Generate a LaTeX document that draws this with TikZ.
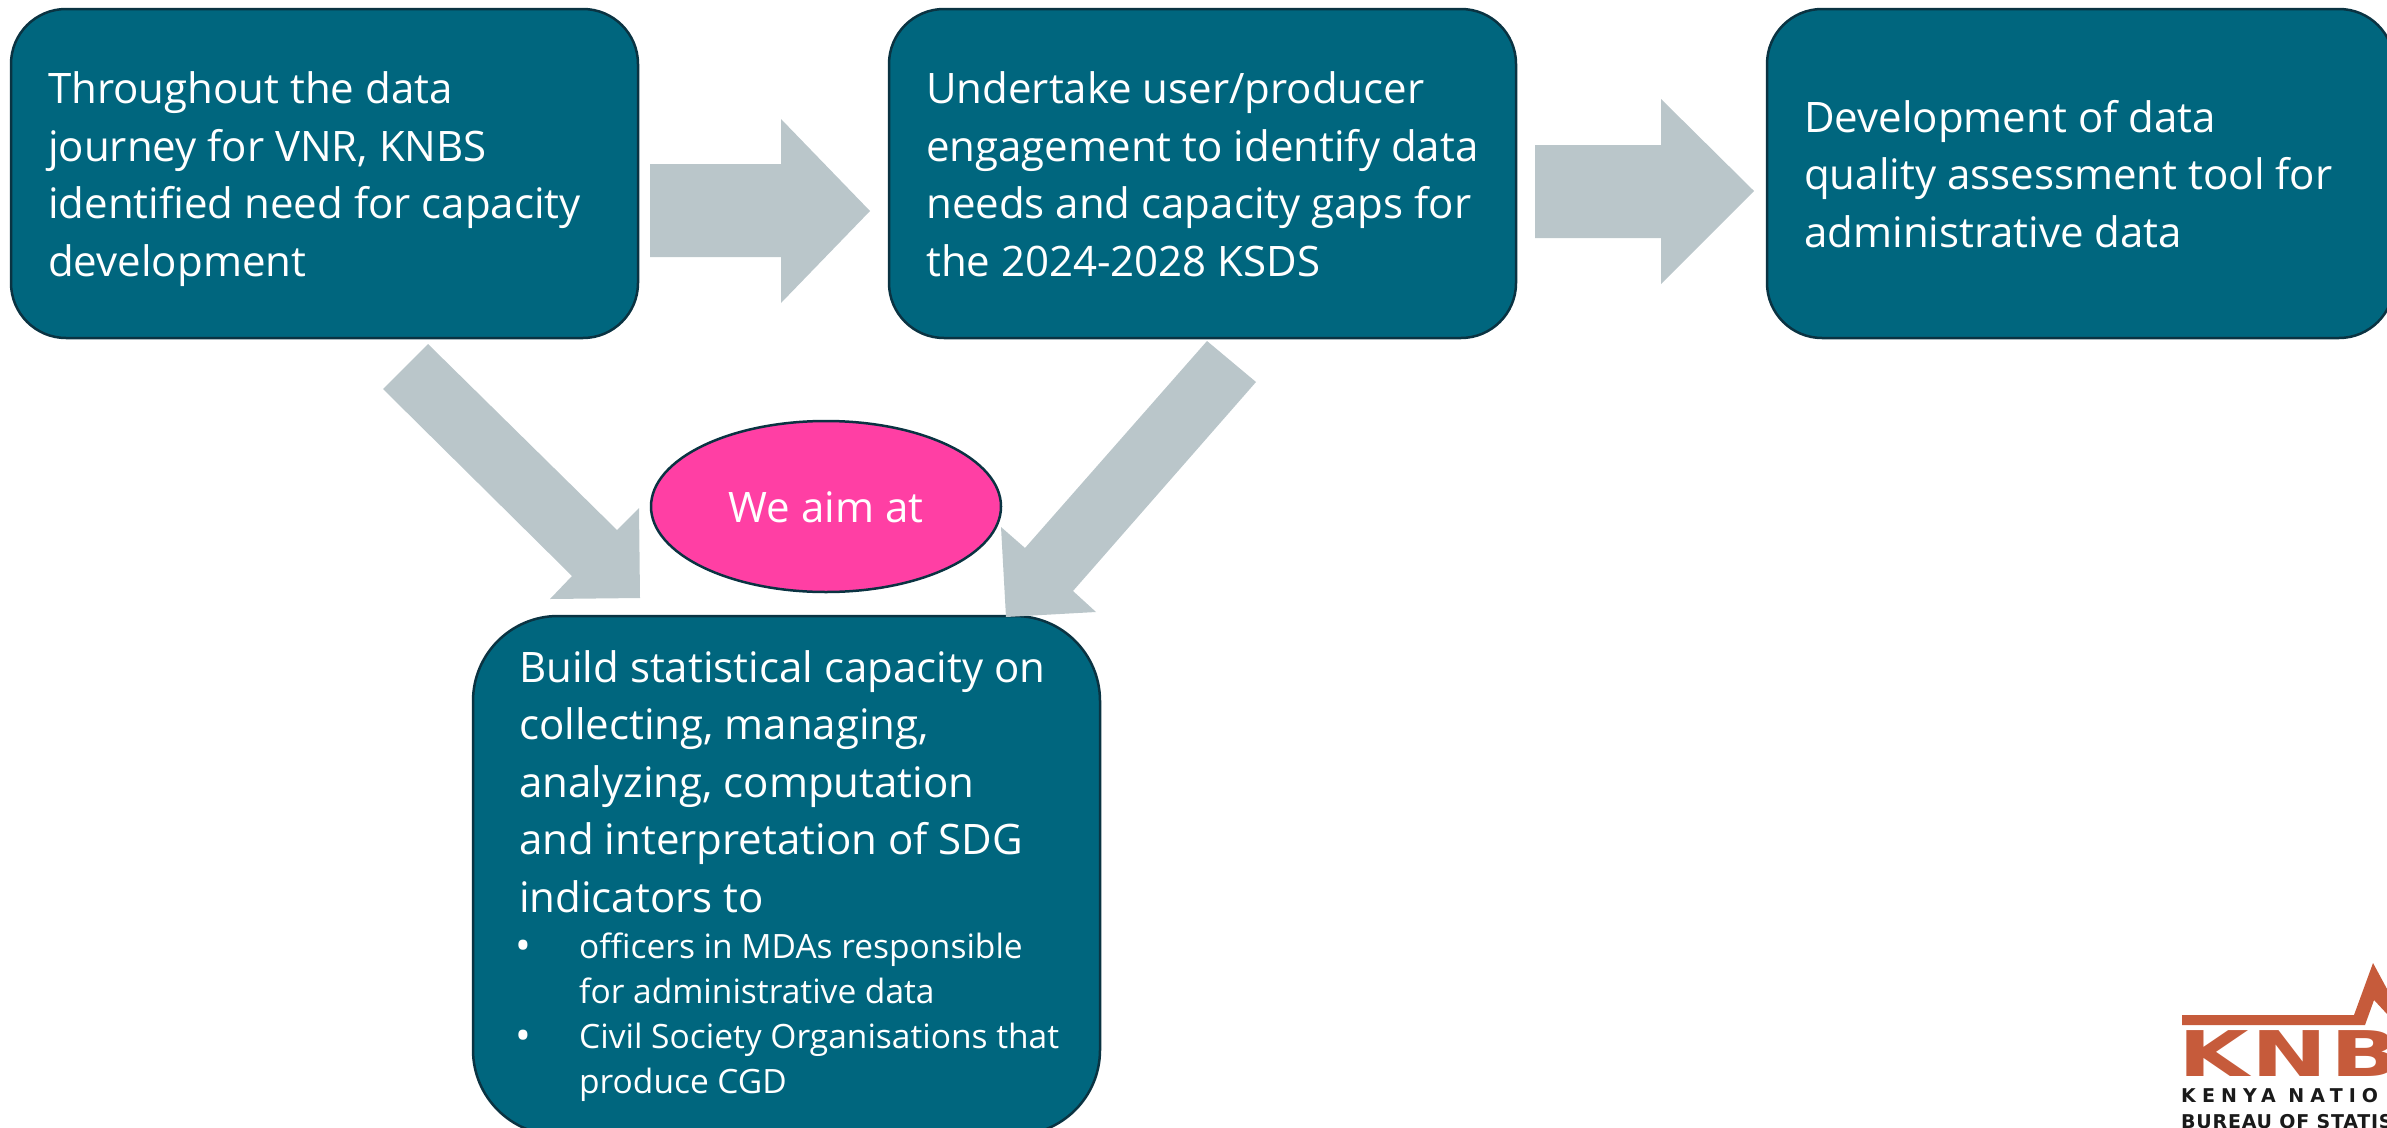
\documentclass[tikz,border=0pt]{standalone}
\usepackage{fontspec}
\setmainfont{Open Sans}
\newfontfamily\logofont[LetterSpace=3]{DejaVu Sans}
\newfontfamily\logosmall[LetterSpace=32]{DejaVu Sans}
\newfontfamily\logosmallb[LetterSpace=4]{DejaVu Sans}
\definecolor{teal}{HTML}{00667E}
\definecolor{edge}{HTML}{0A3342}
\definecolor{arrowgrey}{HTML}{BAC6CA}
\definecolor{pinkfill}{HTML}{FF3FA4}
\definecolor{logoorange}{HTML}{C65B3B}
\definecolor{logoblack}{HTML}{1A1A1A}
\newcommand{\bigbullet}{\llap{\makebox[60pt][l]{\kern-4pt\raisebox{-2pt}{\fontsize{42}{44.7}\selectfont •}}}}
\tikzset{
  x=1pt,y=-1pt,
  tealbox/.style={draw=edge,fill=teal,line width=2.5pt},
  bigtext/.style={text=white,align=left,inner sep=0pt,anchor=base west,font=\fontsize{42}{57.5}\selectfont},
  smalltext/.style={text=white,align=left,inner sep=0pt,anchor=base west,font=\fontsize{33.5}{44.7}\selectfont},
  blockarrow/.style={fill=arrowgrey,draw=none},
}
\begin{document}
\begin{tikzpicture}
\useasboundingbox (0,0) rectangle (2387,1127);
% boxes
\draw[tealbox,rounded corners=55pt] (11,9) rectangle (638,338);
\draw[tealbox,rounded corners=55pt] (889,9) rectangle (1516,338);
\draw[tealbox,rounded corners=55pt] (1767,9) rectangle (2394,338);
\draw[tealbox,rounded corners=85pt] (473,616) rectangle (1100,1135);
% horizontal arrows
\fill[blockarrow] (650,164)--(781,164)--(781,119)--(870,211)--(781,303)--(781,257)--(650,257)--cycle;
\fill[blockarrow] (1535,145)--(1661,145)--(1661,99)--(1754,191)--(1661,284)--(1661,238)--(1535,238)--cycle;
% diagonal arrows
\fill[blockarrow] (428,344)--(617,530)--(639,508)--(640,598)--(550,599)--(572,576)--(383,389)--cycle;
\fill[blockarrow] (1207,341)--(1025,548)--(1001,527)--(1006,617)--(1096,612)--(1073,591)--(1256,382)--cycle;
% ellipse
\draw[draw=edge,fill=pinkfill,line width=2.5pt] (826,506.5) ellipse [x radius=175,y radius=85.5];
\node[text=white,inner sep=0pt,anchor=base,font=\fontsize{42}{47}\selectfont] (aim) at (826,522) {We aim at};
% texts
\node[bigtext] (t1) at (48,276) {Throughout the data\\journey for VNR, KNBS\\identified need for capacity\\development};
\node[bigtext] (t2) at (926,276) {Undertake user/producer\\engagement to identify data\\needs and capacity gaps for\\the 2024-2028 KSDS};
\node[bigtext] (t3) at (1804,247) {Development of data\\quality assessment tool for\\administrative data};
\node[bigtext] (t4) at (519,912) {Build statistical capacity on\\collecting, managing,\\analyzing, computation\\and interpretation of SDG\\indicators to};
\node[smalltext] (t5) at (579,1093) {\bigbullet officers in MDAs responsible\\for administrative data\\\bigbullet Civil Society Organisations that\\produce CGD};
% logo
\fill[logoorange] (2182,1015)--(2354,1015)--(2373,963)--(2387,989)--(2387,1014)--(2374,1000)--(2365,1025)--(2182,1025)--cycle;
\node[text=logoorange,inner sep=0pt,anchor=base west,xscale=1.445,font=\logofont\bfseries\fontsize{63}{63}\selectfont] (knb) at (2178,1076) {KNB};
\node[text=logoblack,inner sep=0pt,anchor=base west,font=\logosmall\bfseries\fontsize{19}{19}\selectfont] (kenya) at (2181,1102) {KENYA NATIO};
\node[text=logoblack,inner sep=0pt,anchor=base west,font=\logosmallb\bfseries\fontsize{19}{19}\selectfont] (bureau) at (2181,1128) {BUREAU OF STATIS};
\end{tikzpicture}
\end{document}
